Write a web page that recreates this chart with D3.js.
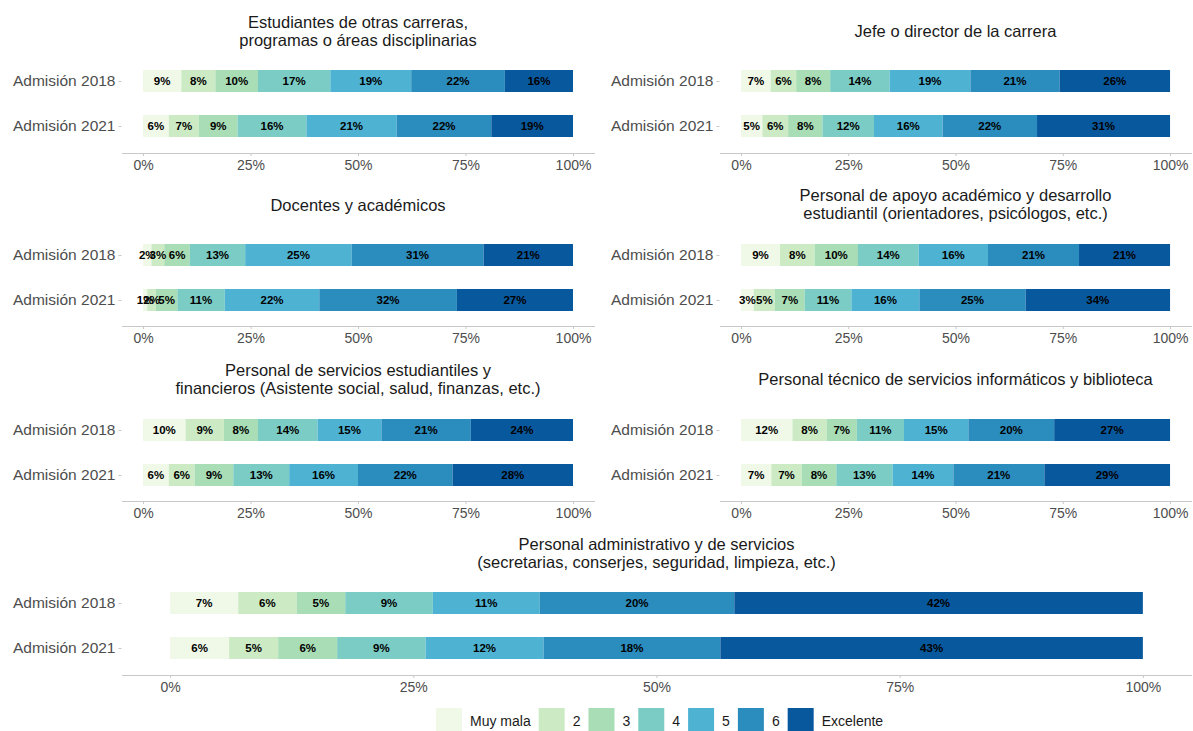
<!DOCTYPE html>
<html>
<head>
<meta charset="utf-8">
<script src="https://cdn.jsdelivr.net/npm/d3@7"></script>
<style>
  body { margin: 0; background: #fff; }
  text { font-family: "Liberation Sans", Arial, sans-serif; }
</style>
</head>
<body>
<div id="chart"></div>
<script>
// rating categories and fill palette (GnBu 7)
var categories = ["Muy mala", "2", "3", "4", "5", "6", "Excelente"];
var colors = ["#f0f9e8", "#ccebc5", "#a8ddb5", "#7bccc4", "#4eb3d3", "#2b8cbe", "#08589e"];
var years = ["Admisión 2018", "Admisión 2021"];
var tickValues = [0, 0.25, 0.5, 0.75, 1];

// percentages per panel, [2018, 2021]
var estudiantes = [[9, 8, 10, 17, 19, 22, 16], [6, 7, 9, 16, 21, 22, 19]];
var jefe = [[7, 6, 8, 14, 19, 21, 26], [5, 6, 8, 12, 16, 22, 31]];
var docentes = [[2, 3, 6, 13, 25, 31, 21], [1, 2, 5, 11, 22, 32, 27]];
var apoyo = [[9, 8, 10, 14, 16, 21, 21], [3, 5, 7, 11, 16, 25, 34]];
var serviciosEst = [[10, 9, 8, 14, 15, 21, 24], [6, 6, 9, 13, 16, 22, 28]];
var tecnico = [[12, 8, 7, 11, 15, 20, 27], [7, 7, 8, 13, 14, 21, 29]];
var administrativo = [[7, 6, 5, 9, 11, 20, 42], [6, 5, 6, 9, 12, 18, 43]];

var titles = {
  estudiantes: ["Estudiantes de otras carreras,", "programas o áreas disciplinarias"],
  jefe: ["Jefe o director de la carrera"],
  docentes: ["Docentes y académicos"],
  apoyo: ["Personal de apoyo académico y desarrollo", "estudiantil (orientadores, psicólogos, etc.)"],
  serviciosEst: ["Personal de servicios estudiantiles y", "financieros (Asistente social, salud, finanzas, etc.)"],
  tecnico: ["Personal técnico de servicios informáticos y biblioteca"],
  administrativo: ["Personal administrativo y de servicios", "(secretarias, conserjes, seguridad, limpieza, etc.)"]
};

var width = 1193;
var height = 731;

// panel layout (pixel ranges include ggplot's 5% expansion)
var left = [121.5, 594.5];
var right = [719.5, 1191.5];
var full = [121.5, 1191.5];
var panels = [
  { values: estudiantes, title: titles.estudiantes, xr: left, y: [81, 126], axisY: 153, titleY: 31 },
  { values: jefe, title: titles.jefe, xr: right, y: [81, 126], axisY: 153, titleY: 31 },
  { values: docentes, title: titles.docentes, xr: left, y: [255, 300], axisY: 326, titleY: 205 },
  { values: apoyo, title: titles.apoyo, xr: right, y: [255, 300], axisY: 326, titleY: 204 },
  { values: serviciosEst, title: titles.serviciosEst, xr: left, y: [430, 475], axisY: 501, titleY: 379 },
  { values: tecnico, title: titles.tecnico, xr: right, y: [430, 475], axisY: 501, titleY: 379 },
  { values: administrativo, title: titles.administrativo, xr: full, y: [603, 648], axisY: 675, titleY: 553 }
];

var svg = d3.select('#chart')
  .append('svg')
  .attr('width', width)
  .attr('height', height);

var barH = 22;
var lineGap = 18.5;

panels.forEach(function(p) {
  var g = svg.append('g');

  var x = d3.scaleLinear()
    .domain([-0.05, 1.05])
    .range(p.xr);

  var y = d3.scaleOrdinal()
    .domain(years)
    .range(p.y);

  // title
  var n = p.title.length;
  g.append('text')
    .attr('x', (p.xr[0] + p.xr[1]) / 2)
    .attr('text-anchor', 'middle')
    .style('font-size', '16.5px')
    .attr('fill', '#1a1a1a')
    .selectAll('tspan')
    .data(p.title)
    .enter().append('tspan')
    .attr('x', (p.xr[0] + p.xr[1]) / 2)
    .attr('y', function(d, i) {
      return p.titleY + (i - (n - 1) / 2) * lineGap;
    })
    .attr('dy', '0.35em')
    .text(function(d) { return d; });

  // stacked segments (position fill)
  years.forEach(function(yr, yi) {
    var vals = p.values[yi];
    var total = d3.sum(vals);
    var cum = 0;
    var segs = vals.map(function(v, ci) {
      var s = { start: cum / total, end: (cum + v) / total, v: v, c: ci };
      cum += v;
      return s;
    });

    var row = g.append('g');
    row.selectAll('rect')
      .data(segs)
      .enter().append('rect')
      .attr('x', function(d) { return x(d.start); })
      .attr('width', function(d) { return x(d.end) - x(d.start); })
      .attr('y', y(yr) - barH / 2)
      .attr('height', barH)
      .attr('fill', function(d) { return colors[d.c]; });

    row.selectAll('text')
      .data(segs)
      .enter().append('text')
      .attr('x', function(d) { return x((d.start + d.end) / 2); })
      .attr('y', y(yr))
      .attr('dy', '0.36em')
      .attr('text-anchor', 'middle')
      .style('font-size', '11.5px')
      .style('font-weight', 'bold')
      .attr('fill', '#000')
      .text(function(d) { return d.v + '%'; });
  });

  // x axis
  var xAxis = g.append('g')
    .attr('transform', 'translate(0,' + p.axisY + ')')
    .call(d3.axisBottom(x)
      .tickValues(tickValues)
      .tickFormat(d3.format('.0%'))
      .tickSize(3)
      .tickSizeOuter(0)
      .tickPadding(4));
  xAxis.select('.domain').attr('stroke', '#c8c8c8');
  xAxis.selectAll('.tick line').attr('stroke', '#c8c8c8');
  xAxis.selectAll('.tick text')
    .attr('fill', '#4d4d4d')
    .style('font-size', '14px')
    .style('font-family', '"Liberation Sans", Arial, sans-serif');

  // y axis
  var yAxis = g.append('g')
    .attr('transform', 'translate(' + p.xr[0] + ',0)')
    .call(d3.axisLeft(d3.scalePoint().domain(years).range(p.y))
      .tickSize(3)
      .tickPadding(3));
  yAxis.select('.domain').remove();
  yAxis.selectAll('.tick line').attr('stroke', '#c8c8c8');
  yAxis.selectAll('.tick text')
    .attr('fill', '#4d4d4d')
    .style('font-size', '15.5px')
    .style('font-family', '"Liberation Sans", Arial, sans-serif');
});

// legend
var legend = svg.append('g');
var lx = 436;
categories.forEach(function(c, i) {
  legend.append('rect')
    .attr('x', lx)
    .attr('y', 708)
    .attr('width', 26)
    .attr('height', 26)
    .attr('fill', colors[i]);
  var t = legend.append('text')
    .attr('x', lx + 34)
    .attr('y', 721)
    .attr('dy', '0.35em')
    .style('font-size', '14px')
    .attr('fill', '#1a1a1a')
    .text(c);
  lx = lx + 34 + t.node().getComputedTextLength() + 8;
});
</script>
</body>
</html>
